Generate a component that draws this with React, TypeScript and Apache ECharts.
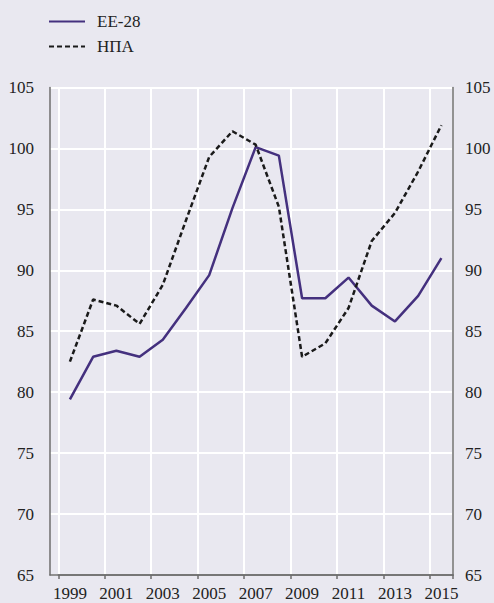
import React, { useEffect, useRef } from "react";
import * as echarts from "echarts";

const years = ["1999", "2000", "2001", "2002", "2003", "2004", "2005", "2006", "2007", "2008", "2009", "2010", "2011", "2012", "2013", "2014", "2015"];
const eu28 = [79.4, 82.9, 83.4, 82.9, 84.3, 86.9, 89.6, 95.1, 100.1, 99.4, 87.7, 87.7, 89.4, 87.1, 85.8, 87.9, 91.0];
const usa = [82.5, 87.6, 87.1, 85.6, 88.8, 94.1, 99.3, 101.4, 100.3, 95.2, 82.9, 84.0, 86.9, 92.4, 94.7, 98.1, 101.9];
const seriesNames = ["ЕЕ-28", "НПА"];
const yMin = 65;
const yMax = 105;
const yStep = 5;

const FONT = "Liberation Serif";
const TEXT = "#222222";
const AXIS = "#6e6e6e";

export default function App() {
  const ref = useRef<HTMLDivElement>(null);
  useEffect(() => {
    document.body.style.margin = "0";
    const chart = echarts.init(ref.current!, null, { renderer: "svg" });
    chart.setOption({
      animation: false,
      backgroundColor: "#e9e8f0",
      legend: {
        orient: "vertical",
        left: 48,
        top: 13,
        padding: 0,
        itemWidth: 36,
        itemHeight: 14,
        itemGap: 8,
        data: seriesNames,
        itemStyle: { opacity: 0 },
        textStyle: { fontFamily: FONT, fontSize: 17, color: TEXT, padding: [0, 0, 0, 7] },
      },
      grid: [
        { left: 50, right: 41, top: 87.4, bottom: 28 },
        { left: 58.3, right: 41, top: 87.4, bottom: 28 },
      ],
      xAxis: [
        {
          gridIndex: 0,
          type: "value",
          min: 0,
          max: 1,
          axisLine: { show: true, onZero: false, lineStyle: { color: AXIS, width: 1.5 } },
          axisTick: { show: false },
          axisLabel: { show: false },
          splitLine: { show: false },
        },
        {
          gridIndex: 1,
          type: "category",
          data: years,
          boundaryGap: true,
          axisLine: { show: true, onZero: false, lineStyle: { color: AXIS, width: 1.5 } },
          axisTick: { show: true, length: 4, lineStyle: { color: AXIS, width: 1.5 } },
          axisLabel: { interval: 1, fontFamily: FONT, fontSize: 17, color: TEXT, margin: 10 },
          splitLine: { show: true, lineStyle: { color: "#ffffff", width: 2 } },
        },
      ],
      yAxis: [
        {
          gridIndex: 0,
          type: "value",
          position: "left",
          min: yMin,
          max: yMax,
          interval: yStep,
          axisLine: { show: true, lineStyle: { color: AXIS, width: 1.5 } },
          axisTick: { show: false },
          axisLabel: { fontFamily: FONT, fontSize: 17, color: TEXT, margin: 16 },
          splitLine: { show: true, lineStyle: { color: "#ffffff", width: 2 } },
        },
        {
          gridIndex: 0,
          type: "value",
          position: "right",
          min: yMin,
          max: yMax,
          interval: yStep,
          axisLine: { show: true, lineStyle: { color: AXIS, width: 1.5 } },
          axisTick: { show: false },
          axisLabel: { fontFamily: FONT, fontSize: 17, color: TEXT, margin: 12 },
          splitLine: { show: false },
        },
        {
          gridIndex: 1,
          type: "value",
          min: yMin,
          max: yMax,
          interval: yStep,
          axisLine: { show: false },
          axisTick: { show: false },
          axisLabel: { show: false },
          splitLine: { show: false },
        },
      ],
      series: [
        {
          name: seriesNames[0],
          type: "line",
          xAxisIndex: 1,
          yAxisIndex: 2,
          data: eu28,
          symbol: "none",
          lineStyle: { color: "#44307e", width: 2.5 },
          itemStyle: { color: "#44307e" },
          z: 3,
        },
        {
          name: seriesNames[1],
          type: "line",
          xAxisIndex: 1,
          yAxisIndex: 2,
          data: usa,
          symbol: "none",
          lineStyle: { color: "#1a1a1a", width: 2.5, type: [5, 3] },
          itemStyle: { color: "#1a1a1a" },
          z: 4,
        },
      ],
    });
    return () => chart.dispose();
  }, []);
  return <div ref={ref} style={{ width: 494, height: 603 }} />;
}
